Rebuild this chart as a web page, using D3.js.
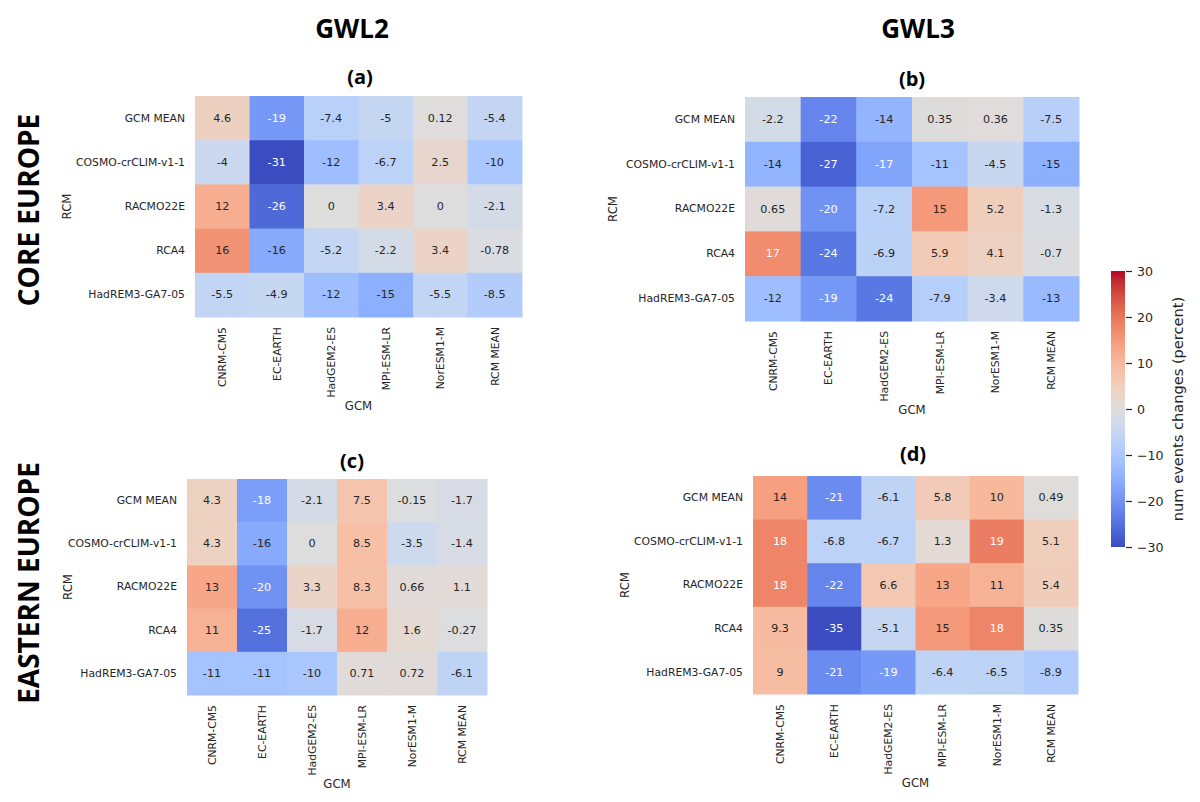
<!DOCTYPE html>
<html lang="en">
<head>
    <meta charset="UTF-8">
    <title>GWL2 / GWL3 event changes heatmaps</title>
    <script src="https://d3js.org/d3.v7.min.js"></script>
    <style>
        body { margin: 0; background: #fff; }
        text { fill: #262626; }
    </style>
</head>
<body>
<svg id="chart" width="1200" height="802"></svg>

<script>
    // Chart data
    const gcms = ["CNRM-CM5", "EC-EARTH", "HadGEM2-ES", "MPI-ESM-LR", "NorESM1-M", "RCM MEAN"];
    const rcms = ["GCM MEAN", "COSMO-crCLIM-v1-1", "RACMO22E", "RCA4", "HadREM3-GA7-05"];
    const columnTitles = ["GWL2", "GWL3"];
    const rowTitles = ["CORE EUROPE", "EASTERN EUROPE"];
    const colorTicks = [-30, -20, -10, 0, 10, 20, 30];

    // rows follow rcms, columns follow gcms
    const coreGwl2 = [
        [4.6, -19, -7.4, -5, 0.12, -5.4],
        [-4, -31, -12, -6.7, 2.5, -10],
        [12, -26, 0, 3.4, 0, -2.1],
        [16, -16, -5.2, -2.2, 3.4, -0.78],
        [-5.5, -4.9, -12, -15, -5.5, -8.5]
    ];
    const coreGwl3 = [
        [-2.2, -22, -14, 0.35, 0.36, -7.5],
        [-14, -27, -17, -11, -4.5, -15],
        [0.65, -20, -7.2, 15, 5.2, -1.3],
        [17, -24, -6.9, 5.9, 4.1, -0.7],
        [-12, -19, -24, -7.9, -3.4, -13]
    ];
    const easternGwl2 = [
        [4.3, -18, -2.1, 7.5, -0.15, -1.7],
        [4.3, -16, 0, 8.5, -3.5, -1.4],
        [13, -20, 3.3, 8.3, 0.66, 1.1],
        [11, -25, -1.7, 12, 1.6, -0.27],
        [-11, -11, -10, 0.71, 0.72, -6.1]
    ];
    const easternGwl3 = [
        [14, -21, -6.1, 5.8, 10, 0.49],
        [18, -6.8, -6.7, 1.3, 19, 5.1],
        [18, -22, 6.6, 13, 11, 5.4],
        [9.3, -35, -5.1, 15, 18, 0.35],
        [9, -21, -19, -6.4, -6.5, -8.9]
    ];

    // coolwarm colour map (Moreland diverging table)
    const coolwarmStops = [
        [59,76,192],[68,90,204],[77,104,215],[87,117,225],[98,130,234],[108,142,241],
        [119,154,247],[130,165,251],[141,176,254],[152,185,255],[163,194,255],[174,201,253],
        [184,208,249],[194,213,244],[204,217,238],[213,219,230],[221,221,221],[229,216,209],
        [236,211,197],[241,204,185],[245,196,173],[247,187,160],[247,177,148],[247,166,135],
        [244,154,123],[241,141,111],[236,127,99],[229,112,88],[222,96,77],[213,80,66],
        [203,62,56],[192,40,47],[180,4,38]
    ].map(c => d3.rgb(c[0], c[1], c[2]).formatHex());

    const vmin = -30, vmax = 30;
    const color = d3.scaleLinear()
        .domain(d3.range(coolwarmStops.length).map(i => vmin + (vmax - vmin) * i / (coolwarmStops.length - 1)))
        .range(coolwarmStops)
        .interpolate(d3.interpolateRgb)
        .clamp(true);

    // seaborn picks the annotation colour from the cell luminance
    function textColor(v) {
        const c = d3.rgb(color(v));
        const lin = ch => { ch /= 255; return ch <= 0.03928 ? ch / 12.92 : Math.pow((ch + 0.055) / 1.055, 2.4); };
        const lum = 0.2126 * lin(c.r) + 0.7152 * lin(c.g) + 0.0722 * lin(c.b);
        return lum > 0.408 ? "#262626" : "#ffffff";
    }

    const fmt = d3.formatLocale({decimal: ".", thousands: ",", grouping: [3], currency: ["", ""], minus: "-"}).format(".2~g");

    const panels = [
        {values: coreGwl2, label: "(a)", x: 195, y: 96, w: 327, h: 221, tx: 360, ty: 76, rcmX: 67},
        {values: coreGwl3, label: "(b)", x: 745, y: 97, w: 334, h: 224, tx: 912, ty: 78, rcmX: 613},
        {values: easternGwl2, label: "(c)", x: 187, y: 479, w: 300, h: 216, tx: 352, ty: 460, rcmX: 68},
        {values: easternGwl3, label: "(d)", x: 753, y: 476, w: 325, h: 218, tx: 913, ty: 453, rcmX: 625}
    ];

    const svg = d3.select("#chart");
    const tickFont = "DejaVu Sans, sans-serif";
    const titleFont = "'Open Sans', sans-serif";

    // column and row titles
    svg.selectAll("text.coltitle")
        .data(columnTitles)
        .join("text")
        .attr("class", "coltitle")
        .attr("x", (d, i) => [352, 918][i])
        .attr("y", 28)
        .attr("text-anchor", "middle")
        .attr("dominant-baseline", "central")
        .style("font-family", titleFont)
        .style("font-weight", 700)
        .style("font-size", "26px")
        .style("fill", "#000")
        .text(d => d);

    svg.selectAll("text.rowtitle")
        .data(rowTitles)
        .join("text")
        .attr("class", "rowtitle")
        .attr("transform", (d, i) => `translate(28,${[210, 583][i]}) rotate(-90)`)
        .attr("text-anchor", "middle")
        .attr("dominant-baseline", "central")
        .style("font-family", titleFont)
        .style("font-weight", 700)
        .style("font-size", "28px")
        .style("fill", "#000")
        .text(d => d);

    panels.forEach(p => {
        const g = svg.append("g").attr("transform", `translate(${p.x},${p.y})`);

        const x = d3.scaleBand().domain(gcms).range([0, p.w]);
        const y = d3.scaleBand().domain(rcms).range([0, p.h]);

        const cells = [];
        p.values.forEach((row, ri) => row.forEach((v, ci) => cells.push({rcm: rcms[ri], gcm: gcms[ci], v})));

        g.selectAll("rect")
            .data(cells)
            .join("rect")
            .attr("x", d => x(d.gcm))
            .attr("y", d => y(d.rcm))
            .attr("width", x.bandwidth() + 0.5)
            .attr("height", y.bandwidth() + 0.5)
            .attr("fill", d => color(d.v));

        g.selectAll("text.annot")
            .data(cells)
            .join("text")
            .attr("class", "annot")
            .attr("x", d => x(d.gcm) + x.bandwidth() / 2)
            .attr("y", d => y(d.rcm) + y.bandwidth() / 2)
            .attr("text-anchor", "middle")
            .attr("dominant-baseline", "central")
            .style("font-family", tickFont)
            .style("font-size", "11.2px")
            .style("fill", d => textColor(d.v))
            .text(d => fmt(d.v));

        // axes without tick marks, like the seaborn heatmap
        const xAxis = g.append("g")
            .attr("transform", `translate(0,${p.h})`)
            .call(d3.axisBottom(x).tickSize(0).tickPadding(0));
        xAxis.select(".domain").remove();
        xAxis.selectAll("text")
            .attr("transform", "rotate(-90)")
            .attr("x", -10)
            .attr("y", 0)
            .attr("dy", "0.35em")
            .attr("text-anchor", "end")
            .style("font-family", tickFont)
            .style("font-size", "10.8px")
            .style("fill", "#262626");

        const yAxis = g.append("g")
            .call(d3.axisLeft(y).tickSize(0).tickPadding(10));
        yAxis.select(".domain").remove();
        yAxis.selectAll("text")
            .style("font-family", tickFont)
            .style("font-size", "10.8px")
            .style("fill", "#262626");

        // axis titles
        g.append("text")
            .attr("x", p.w / 2)
            .attr("y", p.h + 89)
            .attr("text-anchor", "middle")
            .attr("dominant-baseline", "central")
            .style("font-family", tickFont)
            .style("font-size", "11.7px")
            .text("GCM");

        g.append("text")
            .attr("transform", `translate(${p.rcmX - p.x},${p.h / 2}) rotate(-90)`)
            .attr("text-anchor", "middle")
            .attr("dominant-baseline", "central")
            .style("font-family", tickFont)
            .style("font-size", "11.7px")
            .text("RCM");

        // panel label
        svg.append("text")
            .attr("x", p.tx)
            .attr("y", p.ty)
            .attr("text-anchor", "middle")
            .attr("dominant-baseline", "central")
            .style("font-family", titleFont)
            .style("font-weight", 700)
            .style("font-size", "20px")
            .style("fill", "#000")
            .text(p.label);
    });

    // colour bar
    const cbX = 1111, cbY = 271, cbW = 14, cbH = 276;
    const defs = svg.append("defs");
    const grad = defs.append("linearGradient")
        .attr("id", "cbar")
        .attr("x1", 0).attr("y1", 1).attr("x2", 0).attr("y2", 0);
    grad.selectAll("stop")
        .data(d3.range(0, 1.0001, 1 / 64))
        .join("stop")
        .attr("offset", d => d)
        .attr("stop-color", d => color(vmin + d * (vmax - vmin)));

    svg.append("rect")
        .attr("x", cbX)
        .attr("y", cbY)
        .attr("width", cbW)
        .attr("height", cbH)
        .attr("fill", "url(#cbar)");

    const cbScale = d3.scaleLinear().domain([vmin, vmax]).range([cbY + cbH, cbY]);
    const cbAxis = svg.append("g")
        .attr("transform", `translate(${cbX + cbW + 1},0)`)
        .call(d3.axisRight(cbScale).tickValues(colorTicks).tickSize(6).tickPadding(5));
    cbAxis.select(".domain").remove();
    cbAxis.selectAll("line").attr("stroke", "#262626").attr("stroke-width", 1.2);
    cbAxis.selectAll("text")
        .style("font-family", tickFont)
        .style("font-size", "12.6px")
        .style("fill", "#262626");

    svg.append("text")
        .attr("transform", `translate(1177,${cbY + cbH / 2}) rotate(-90)`)
        .attr("text-anchor", "middle")
        .attr("dominant-baseline", "central")
        .style("font-family", tickFont)
        .style("font-size", "14.6px")
        .text("num events changes (percent)");
</script>
</body>
</html>
